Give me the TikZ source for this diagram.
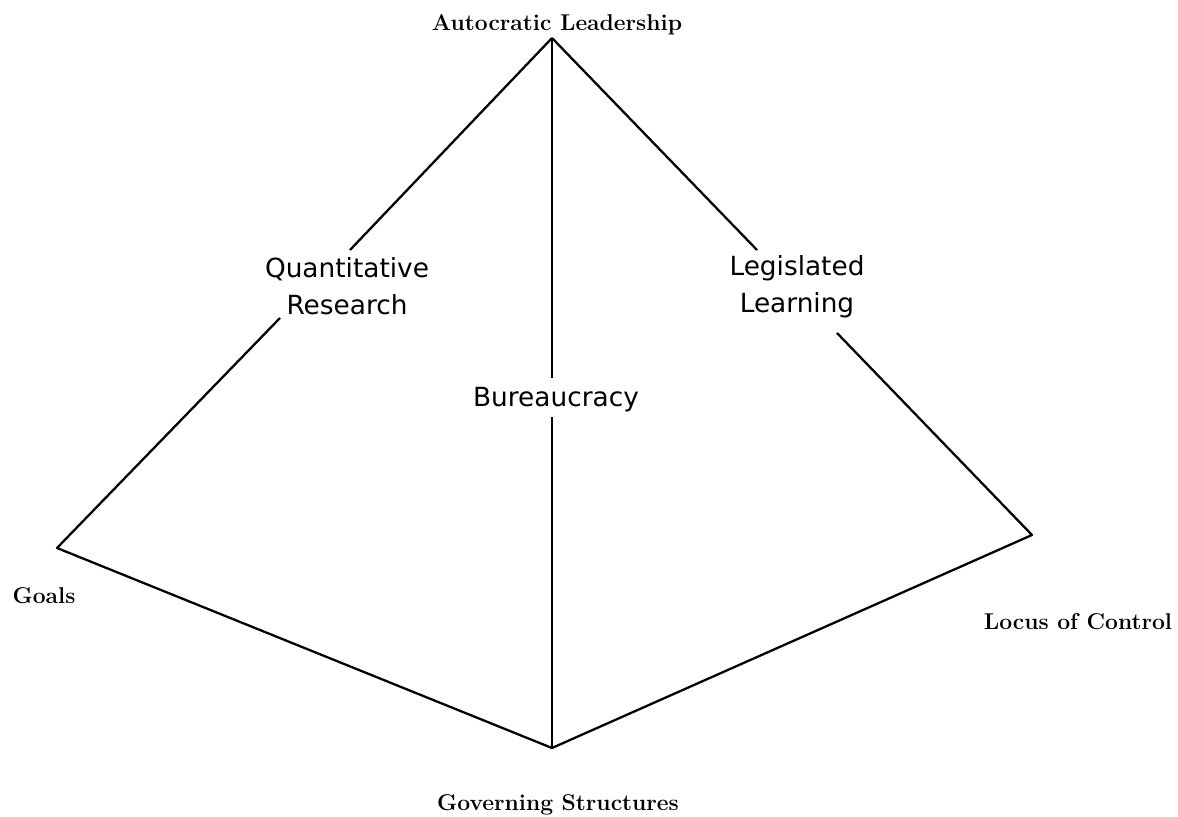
\documentclass[tikz,border=0pt]{standalone}
\usepackage{fontspec}
\newfontfamily\midfont{DejaVu Sans}
\usetikzlibrary{positioning}
\tikzset{
  edge/.style={draw=black, line width=1.3pt, line join=round},
  corner/.style={font=\fontsize{13}{15}\selectfont\bfseries, text centered, inner sep=1pt},
  mid/.style={font=\midfont\fontsize{15}{21}\selectfont, align=center, inner sep=1pt}
}
\begin{document}
\begin{tikzpicture}[x=0.02cm,y=-0.02cm]
	\useasboundingbox (0,0) rectangle (1178,817);
	\coordinate (apex) at (552,38);
	\coordinate (bottom) at (552,748);
	\coordinate (left) at (57,548);
	\coordinate (right) at (1032,535);
	%
	\node[corner] (autocratic) at (557,25) {Autocratic Leadership};
	\node[corner] (goals) at (44,596) {Goals};
	\node[corner] (locus) at (1078,622) {Locus of Control};
	\node[corner] (governing) at (558,805) {Governing Structures};
	\node[mid] (quant) at (347,286) {Quantitative\\Research};
	\node[mid] (legis) at (797,287) {Legislated\\Learning};
	\node[mid] (bureau) at (556,400) {Bureaucracy};
	%
	\coordinate (qtop) at (350,250);
	\coordinate (qbot) at (280,318);
	\coordinate (ltop) at (757,250);
	\coordinate (lbot) at (837,333);
	\coordinate (btop) at (552,378);
	\coordinate (bbot) at (552,417);
	%
	\draw[edge] (apex) -- (qtop);
	\draw[edge] (qbot) -- (left) -- (bottom) -- (right) -- (lbot);
	\draw[edge] (apex) -- (ltop);
	\draw[edge] (apex) -- (btop);
	\draw[edge] (bbot) -- (bottom);
\end{tikzpicture}
\end{document}
